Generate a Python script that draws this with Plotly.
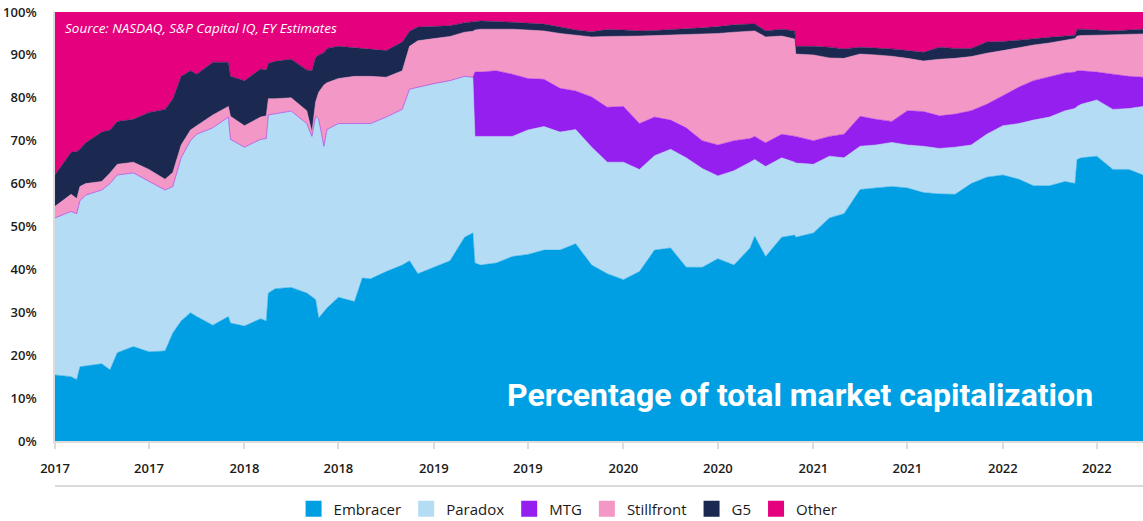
import plotly.graph_objects as go

# ---- Data (cumulative share, %, at the top of each band) ----
dates = [
    # 2017
    "2017-01-01", "2017-02-01", "2017-02-12", "2017-02-18", "2017-03-01", "2017-04-01",
    "2017-04-17", "2017-05-01", "2017-06-01", "2017-07-01", "2017-08-01", "2017-08-16",
    "2017-09-01", "2017-09-19", "2017-10-01", "2017-11-01", "2017-12-01", "2017-12-05",
    # 2018
    "2018-01-01", "2018-02-01", "2018-02-12", "2018-02-16", "2018-03-01", "2018-04-01",
    "2018-05-01", "2018-05-11", "2018-05-18", "2018-05-24", "2018-06-03", "2018-06-09",
    "2018-07-01", "2018-08-01", "2018-08-16", "2018-09-01", "2018-10-01", "2018-11-01",
    "2018-11-15", "2018-12-01",
    # 2019
    "2019-01-01", "2019-02-01", "2019-03-01", "2019-03-17", "2019-03-21", "2019-04-01",
    "2019-05-01", "2019-06-01", "2019-07-01", "2019-08-01", "2019-09-01", "2019-10-01",
    "2019-11-01", "2019-12-01",
    # 2020
    "2020-01-01", "2020-02-01", "2020-03-01", "2020-04-01", "2020-05-01", "2020-06-01",
    "2020-07-01", "2020-08-01", "2020-09-01", "2020-09-10", "2020-10-01", "2020-11-01",
    "2020-11-26", "2020-11-28",
    # 2021
    "2021-01-01", "2021-02-01", "2021-03-01", "2021-04-01", "2021-05-01", "2021-06-01",
    "2021-07-01", "2021-08-01", "2021-09-01", "2021-10-01", "2021-11-01", "2021-12-01",
    # 2022
    "2022-01-01", "2022-02-01", "2022-03-01", "2022-04-01", "2022-05-01", "2022-05-20",
    "2022-05-24", "2022-06-01", "2022-07-01", "2022-08-01", "2022-09-01", "2022-09-28",
]

embracer_top = [
    15.4, 15.0, 14.3, 17.3, 17.5, 18.0, 16.6, 20.6, 22.0, 20.8, 21.0, 25.2, 28.0, 29.9, 29.0, 27.0, 29.0, 27.5,
    26.8, 28.5, 28.0, 34.5, 35.5, 35.8, 34.5, 33.6, 33.0, 28.7, 30.0, 31.0, 33.5, 32.5, 38.0, 37.8, 39.5, 41.0, 42.0, 39.0,
    40.5, 42.0, 47.5, 48.5, 41.5, 41.0, 41.5, 43.0, 43.5, 44.5, 44.5, 46.0, 41.0, 39.0,
    37.6, 39.5, 44.5, 45.0, 40.5, 40.5, 42.5, 41.0, 45.0, 47.7, 43.0, 47.5, 48.0, 47.5,
    48.5, 52.0, 53.0, 58.6, 59.0, 59.3, 59.0, 57.9, 57.6, 57.5, 60.0, 61.5,
    62.0, 61.0, 59.5, 59.5, 60.5, 60.0, 65.6, 66.0, 66.4, 63.3, 63.3, 62.0,
]
paradox_top = [
    52.0, 53.5, 53.0, 56.0, 57.3, 58.5, 60.0, 62.0, 62.5, 60.5, 58.5, 59.3, 66.0, 70.0, 71.5, 73.0, 75.5, 70.3,
    68.5, 70.3, 70.5, 76.0, 76.3, 76.9, 74.0, 71.0, 75.7, 75.0, 68.7, 72.6, 74.0, 74.0, 74.0, 74.0, 75.5, 77.3, 82.0, 82.5,
    83.3, 84.0, 85.0, 84.8, 71.0, 71.0, 71.0, 71.0, 72.5, 73.3, 72.0, 72.6, 68.5, 65.0,
    65.0, 63.3, 66.5, 68.0, 66.0, 63.5, 61.8, 63.0, 65.0, 65.6, 64.0, 66.0, 65.0, 64.8,
    64.5, 66.4, 66.0, 68.7, 69.0, 69.6, 69.0, 68.7, 68.2, 68.5, 69.0, 71.5,
    73.5, 74.0, 74.8, 75.5, 77.0, 77.5, 78.0, 78.5, 79.5, 77.3, 77.5, 78.0,
]
# MTG only appears after its listing (March 2019)
mtg_top = [None] * 18 + [None] * 20 + [
    None, None, None, None, 86.0, 86.0, 86.3, 85.5, 84.5, 84.3, 82.2, 81.6, 80.2, 77.8,
    78.0, 74.0, 75.5, 74.8, 73.0, 70.0, 69.0, 70.0, 70.5, 71.0, 69.5, 71.5, 71.0, 71.0,
    70.0, 71.0, 71.5, 75.7, 75.0, 74.5, 77.0, 76.8, 75.8, 76.2, 77.0, 78.5,
    80.5, 82.5, 84.0, 85.0, 85.8, 86.0, 86.3, 86.3, 86.0, 85.5, 85.0, 84.8,
]
stillfront_top = [
    54.7, 57.5, 56.5, 59.3, 60.0, 60.5, 62.5, 64.5, 65.0, 63.3, 61.0, 62.6, 69.0, 72.5, 73.5, 76.0, 78.0, 75.7,
    73.5, 75.5, 75.8, 79.8, 79.8, 80.0, 77.0, 72.0, 79.0, 81.3, 83.0, 83.5, 84.5, 85.0, 85.0, 85.0, 84.8, 86.3, 92.0, 93.3,
    93.8, 94.3, 95.3, 95.5, 95.8, 96.0, 96.0, 96.0, 95.8, 95.6, 95.0, 94.6, 94.2, 94.3,
    94.3, 94.4, 94.5, 94.6, 94.7, 94.8, 95.0, 95.3, 95.5, 95.6, 94.2, 94.4, 93.7, 90.2,
    90.0, 89.3, 89.2, 90.2, 90.0, 89.7, 89.2, 88.6, 89.0, 89.2, 89.6, 90.4,
    91.0, 91.7, 92.3, 92.8, 93.5, 93.8, 94.4, 94.5, 94.6, 94.7, 94.8, 94.9,
]
g5_top = [
    62.0, 67.3, 67.5, 68.0, 69.5, 72.0, 72.5, 74.5, 75.0, 76.6, 77.3, 79.7, 85.0, 86.3, 85.5, 88.3, 88.3, 85.0,
    84.0, 86.7, 86.5, 88.0, 88.5, 89.0, 86.5, 86.3, 89.4, 90.0, 90.5, 91.5, 92.0, 91.7, 91.5, 91.4, 91.0, 93.0, 95.5, 96.5,
    96.6, 96.8, 97.5, 97.7, 97.9, 97.9, 97.8, 97.6, 97.4, 97.2, 96.5, 95.8, 95.4, 95.9,
    95.8, 95.6, 95.7, 95.9, 96.0, 96.3, 96.6, 97.0, 97.2, 97.2, 95.6, 96.0, 95.6, 92.0,
    92.0, 91.8, 91.4, 91.8, 91.6, 91.4, 91.0, 90.6, 91.8, 91.5, 91.5, 93.0,
    93.1, 93.5, 93.8, 94.1, 94.4, 94.6, 96.0, 96.0, 95.8, 95.6, 95.8, 96.0,
]

for lst in (embracer_top, paradox_top, mtg_top, stillfront_top, g5_top):
    assert len(lst) == len(dates)

# ---- Share of each company (band thickness) ----
embracer = list(embracer_top)
paradox = [p - e for p, e in zip(paradox_top, embracer_top)]
mtg = [0 if m is None else m - p for m, p in zip(mtg_top, paradox_top)]
stillfront = [s - (p if m is None else m) for s, m, p in zip(stillfront_top, mtg_top, paradox_top)]
g5 = [g - s for g, s in zip(g5_top, stillfront_top)]
other = [100 - g for g in g5_top]

series_names = ["Embracer", "Paradox", "MTG", "Stillfront", "G5", "Other"]
series_values = [embracer, paradox, mtg, stillfront, g5, other]
colors = ["#009fe3", "#b4dcf4", "#951fef", "#f297c6", "#1b2951", "#e5007d"]

fig = go.Figure()
for name, vals, col in zip(series_names, series_values, colors):
    fig.add_trace(go.Scatter(
        x=dates, y=vals, name=name, mode="lines", stackgroup="one",
        line=dict(width=0.5, color=col), fillcolor=col, showlegend=False,
        hovertemplate="%{x}<br>" + name + ": %{y:.1f}%<extra></extra>",
    ))
# Legend entries as square swatches
for name, col in zip(series_names, colors):
    fig.add_trace(go.Scatter(
        x=[None], y=[None], name=name, mode="markers",
        marker=dict(symbol="square", size=18, color=col), showlegend=True,
    ))

tick_font = dict(family="Open Sans, Noto Sans, sans-serif", size=13, color="#1a1a1a", weight=600)

fig.update_layout(
    width=1143, height=521,
    margin=dict(l=55, r=0, t=12, b=80, autoexpand=False),
    plot_bgcolor="white", paper_bgcolor="white",
    xaxis=dict(
        type="date", range=["2017-01-01", "2022-09-28"],
        tick0="2017-01-01", dtick="M6", tickformat="%Y",
        ticks="outside", ticklen=6, tickwidth=1.5, tickcolor="#dcdcdc",
        showline=True, linecolor="#dcdcdc", linewidth=2,
        showgrid=False, zeroline=False, tickfont=tick_font,
        ticklabelstandoff=8,
    ),
    yaxis=dict(
        range=[0, 100], dtick=10, ticksuffix="%",
        showline=True, linecolor="#dcdcdc", linewidth=1.5,
        showgrid=False, zeroline=False, ticks="",
        tickfont=tick_font, ticklabelstandoff=14,
    ),
    legend=dict(
        orientation="h", traceorder="normal", xref="container", yref="container",
        x=0.497, xanchor="center", y=0.023, yanchor="middle",
        font=dict(family="Open Sans, Noto Sans, sans-serif", size=15, color="#1a1a1a"),
        itemclick=False,
    ),
    shapes=[dict(
        type="line", xref="paper", yref="paper", x0=0, x1=1, y0=-0.105, y1=-0.105,
        line=dict(color="#d9d9d9", width=2),
    )],
    annotations=[
        dict(
            text="Source: NASDAQ, S&P Capital IQ, EY Estimates",
            xref="paper", yref="paper", x=0.007, y=0.963, xanchor="left", yanchor="middle",
            showarrow=False,
            font=dict(family="Open Sans, sans-serif", size=13.5, color="white", style="italic"),
        ),
        dict(
            text="<b>Percentage of total market capitalization</b>",
            xref="paper", yref="paper", x=0.956, y=0.107, xanchor="right", yanchor="middle",
            showarrow=False,
            font=dict(family="Roboto, Liberation Sans, sans-serif", size=32, color="white"),
        ),
    ],
)

# Remove the default page margin so the 1143x521 figure fills the window exactly
fig.write_html(
    "out.html",
    config={"displayModeBar": False},
    post_script="document.body.style.margin='0';document.body.style.overflow='hidden';",
)
